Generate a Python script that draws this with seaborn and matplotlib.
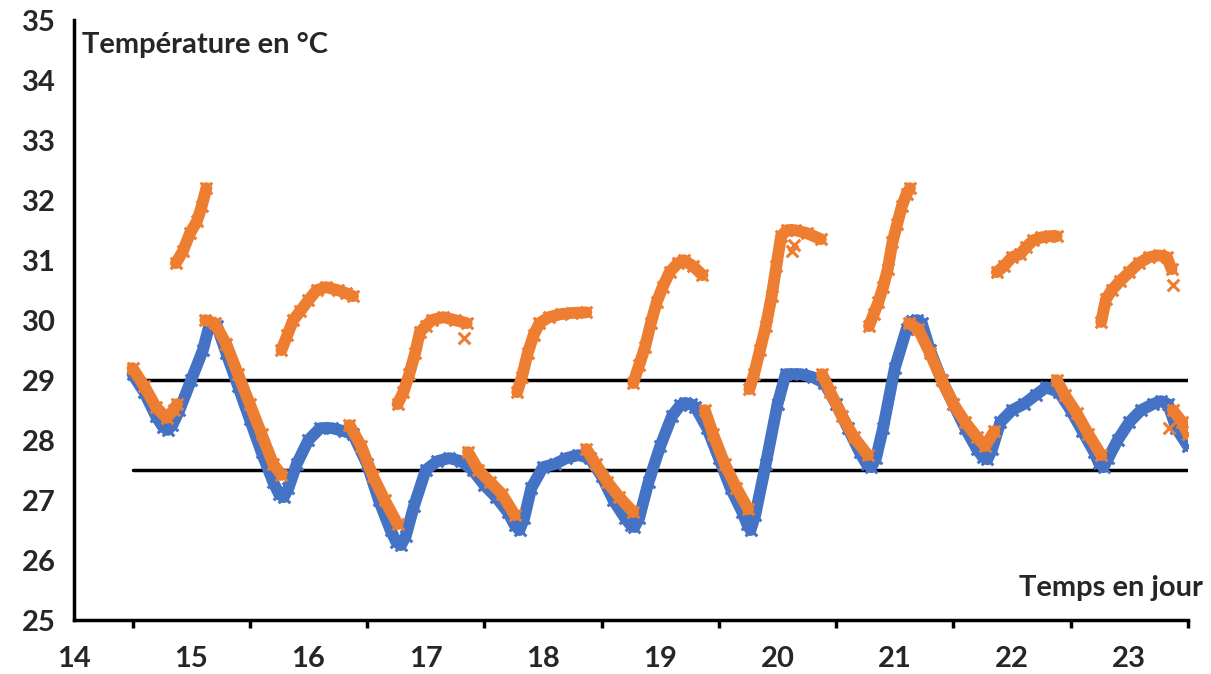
import numpy as np
import pandas as pd
import matplotlib
matplotlib.use("Agg")
import matplotlib.pyplot as plt
import seaborn as sns

# ---------------- DATA ----------------
blue_day = [14.5, 14.6, 14.7, 14.76, 14.8, 14.84, 14.9, 15.0, 15.1, 15.16, 15.22, 15.3,
            15.4, 15.5, 15.6, 15.7, 15.75, 15.79, 15.83, 15.9, 16.0, 16.1, 16.2, 16.3,
            16.38, 16.5, 16.6, 16.7, 16.75, 16.79, 16.83, 16.9, 17.0, 17.1, 17.2, 17.3,
            17.4, 17.5, 17.6, 17.7, 17.76, 17.8, 17.84, 17.9, 18.0, 18.1, 18.2, 18.3,
            18.4, 18.5, 18.6, 18.7, 18.75, 18.78, 18.82, 18.9, 19.0, 19.1, 19.17, 19.21,
            19.26, 19.3, 19.4, 19.5, 19.6, 19.7, 19.74, 19.77, 19.81, 19.9, 20.0, 20.07,
            20.2, 20.3, 20.4, 20.5, 20.6, 20.7, 20.76, 20.8, 20.84, 20.9, 21.0, 21.1,
            21.15, 21.19, 21.23, 21.3, 21.4, 21.5, 21.6, 21.7, 21.75, 21.79, 21.83, 21.9,
            22.0, 22.1, 22.2, 22.29, 22.4, 22.5, 22.6, 22.7, 22.74, 22.78, 22.82, 22.9,
            23.0, 23.1, 23.2, 23.27, 23.33, 23.4, 23.5]
blue_temp = [29.1, 28.8, 28.4, 28.22, 28.17, 28.25, 28.5, 29.0, 29.5, 29.95, 29.9, 29.45,
             28.9, 28.35, 27.8, 27.3, 27.1, 27.05, 27.2, 27.6, 28.0, 28.2, 28.2, 28.15,
             28.1, 27.6, 27.0, 26.5, 26.3, 26.25, 26.4, 26.9, 27.5, 27.65, 27.7, 27.65,
             27.5, 27.25, 27.05, 26.8, 26.58, 26.5, 26.7, 27.2, 27.55, 27.6, 27.7, 27.75,
             27.7, 27.4, 27.0, 26.7, 26.58, 26.55, 26.7, 27.3, 27.9, 28.4, 28.58, 28.62,
             28.6, 28.55, 28.2, 27.7, 27.2, 26.8, 26.6, 26.5, 26.75, 27.6, 28.6, 29.1,
             29.1, 29.05, 28.95, 28.6, 28.2, 27.8, 27.6, 27.55, 27.7, 28.2, 29.2, 29.85,
             29.98, 30.0, 29.95, 29.5, 29.0, 28.6, 28.2, 27.85, 27.72, 27.68, 27.85, 28.3,
             28.5, 28.6, 28.75, 28.88, 28.8, 28.5, 28.15, 27.8, 27.62, 27.55, 27.7, 28.0,
             28.3, 28.5, 28.6, 28.65, 28.6, 28.2, 27.9]

# orange: one list of days / temps per piece of curve
orange_day = [
    [14.5, 14.6, 14.7, 14.79, 14.85, 14.88],
    [15.12, 15.2, 15.3, 15.4, 15.5, 15.6, 15.7, 15.77],
    [16.35, 16.45, 16.55, 16.65, 16.76],
    [17.36, 17.45, 17.55, 17.65, 17.76],
    [18.37, 18.45, 18.55, 18.65, 18.77],
    [19.38, 19.45, 19.55, 19.65, 19.75],
    [20.38, 20.45, 20.55, 20.65, 20.77],
    [21.12, 21.2, 21.3, 21.4, 21.5, 21.6, 21.7, 21.77, 21.85],
    [22.38, 22.45, 22.55, 22.65, 22.76],
    [23.37, 23.45, 23.5],
    [14.87, 14.93, 14.99, 15.05, 15.09, 15.13],
    [15.77, 15.82, 15.87, 15.93, 16.0, 16.07, 16.15, 16.25, 16.32, 16.38],
    [16.76, 16.81, 16.86, 16.91, 16.95, 17.0, 17.05, 17.15, 17.25, 17.35],
    [17.78, 17.82, 17.87, 17.92, 17.97, 18.05, 18.15, 18.25, 18.37],
    [18.77, 18.82, 18.87, 18.92, 18.97, 19.02, 19.08, 19.15, 19.2, 19.28, 19.36],
    [19.76, 19.8, 19.85, 19.9, 19.95, 19.99, 20.03, 20.08, 20.15, 20.25, 20.37],
    [20.78, 20.82, 20.86, 20.9, 20.94, 20.98, 21.02, 21.06, 21.1, 21.13],
    [21.87, 21.93, 22.0, 22.07, 22.12, 22.18, 22.25, 22.32, 22.38],
    [22.76, 22.8, 22.85, 22.92, 23.0, 23.08, 23.17, 23.25, 23.32, 23.36],
]
orange_temp = [
    [29.2, 28.9, 28.55, 28.37, 28.5, 28.6],
    [30.0, 29.95, 29.6, 29.1, 28.6, 28.1, 27.6, 27.42],
    [28.25, 27.9, 27.4, 27.0, 26.6],
    [27.8, 27.5, 27.3, 27.1, 26.75],
    [27.85, 27.6, 27.3, 27.05, 26.8],
    [28.5, 28.1, 27.6, 27.2, 26.85],
    [29.1, 28.8, 28.4, 28.05, 27.75],
    [29.95, 29.85, 29.45, 29.0, 28.6, 28.3, 28.05, 27.9, 28.15],
    [29.0, 28.75, 28.45, 28.1, 27.75],
    [28.5, 28.3, 28.1],
    [30.95, 31.15, 31.45, 31.65, 31.9, 32.2],
    [29.5, 29.75, 30.0, 30.15, 30.33, 30.5, 30.55, 30.5, 30.45, 30.4],
    [28.6, 28.8, 29.1, 29.45, 29.8, 29.9, 30.0, 30.05, 30.0, 29.95],
    [28.8, 29.05, 29.45, 29.75, 29.95, 30.05, 30.1, 30.12, 30.13],
    [28.95, 29.25, 29.55, 29.95, 30.3, 30.55, 30.8, 30.95, 31.0, 30.9, 30.75],
    [28.85, 29.1, 29.5, 29.9, 30.4, 30.9, 31.4, 31.5, 31.5, 31.45, 31.35],
    [29.9, 30.1, 30.3, 30.55, 30.85, 31.3, 31.6, 31.9, 32.1, 32.2],
    [30.8, 30.9, 31.05, 31.1, 31.22, 31.33, 31.38, 31.4, 31.4],
    [29.97, 30.35, 30.5, 30.65, 30.8, 30.95, 31.05, 31.08, 31.05, 30.85],
]
# isolated orange crosses
stray_day = [17.33, 20.12, 20.14, 23.34, 23.37]
stray_temp = [29.7, 31.15, 31.25, 28.2, 30.58]

seuils = [29, 27.5]

BLUE = "#4472C4"
ORANGE = "#ED7D31"

# ---------------- TABLES ----------------
df_blue = pd.DataFrame({"jour": blue_day, "temp": blue_temp})
rows = []
for k, (dd, tt) in enumerate(zip(orange_day, orange_temp)):
    for d, t in zip(dd, tt):
        rows.append({"jour": d, "temp": t, "seg": k})
df_orange = pd.DataFrame(rows)
df_stray = pd.DataFrame({"jour": stray_day, "temp": stray_temp})

# ---------------- PLOT ----------------
sns.set_style("white")
plt.rcParams["font.family"] = ["Lato", "DejaVu Sans"]

fig = plt.figure(figsize=(12.11, 6.74), dpi=100)
ax = fig.add_axes([0.061, 0.080, 0.920, 0.890])

for y in seuils:
    ax.plot([14.5, 23.5], [y, y], color="black", lw=2.5, zorder=1)

line_kw = dict(lw=8.5, sort=False, estimator=None, ax=ax,
               solid_joinstyle="round", solid_capstyle="round")
mark_kw = dict(marker="x", s=70, linewidth=2.2, ax=ax)

sns.lineplot(data=df_blue, x="jour", y="temp", color=BLUE, zorder=2, **line_kw)
sns.scatterplot(data=df_blue, x="jour", y="temp", color=BLUE, zorder=2, **mark_kw)

sns.lineplot(data=df_orange, x="jour", y="temp", units="seg", color=ORANGE,
             zorder=3, **line_kw)
sns.scatterplot(data=df_orange, x="jour", y="temp", color=ORANGE, zorder=3, **mark_kw)
sns.scatterplot(data=df_stray, x="jour", y="temp", color=ORANGE, zorder=3, **mark_kw)

ax.set_xlim(14, 23.5)
ax.set_ylim(25, 35)
ax.set_xticks(range(14, 24))
ax.set_xticks(np.arange(14.5, 23.6, 1.0), minor=True)
ax.set_yticks(range(25, 36))
ax.set_xlabel("")
ax.set_ylabel("")

for s in ["top", "right"]:
    ax.spines[s].set_visible(False)
for s in ["left", "bottom"]:
    ax.spines[s].set_color("black")
    ax.spines[s].set_linewidth(2.5)

ax.tick_params(axis="both", which="major", direction="out", length=9, width=2.5,
               color="black", labelsize=21, pad=4)
ax.tick_params(axis="x", which="minor", direction="out", length=6, width=2.5,
               color="black", bottom=True)
ax.tick_params(axis="x", which="major", pad=10)
for lab in ax.get_xticklabels() + ax.get_yticklabels():
    lab.set_fontweight("bold")

ax.text(14.07, 34.58, "Température en °C", fontsize=21, fontweight="bold",
        ha="left", va="center")
ax.text(23.63, 25.53, "Temps en jour", fontsize=21, fontweight="bold",
        ha="right", va="center", clip_on=False)

fig.savefig("out.png", dpi=100)
